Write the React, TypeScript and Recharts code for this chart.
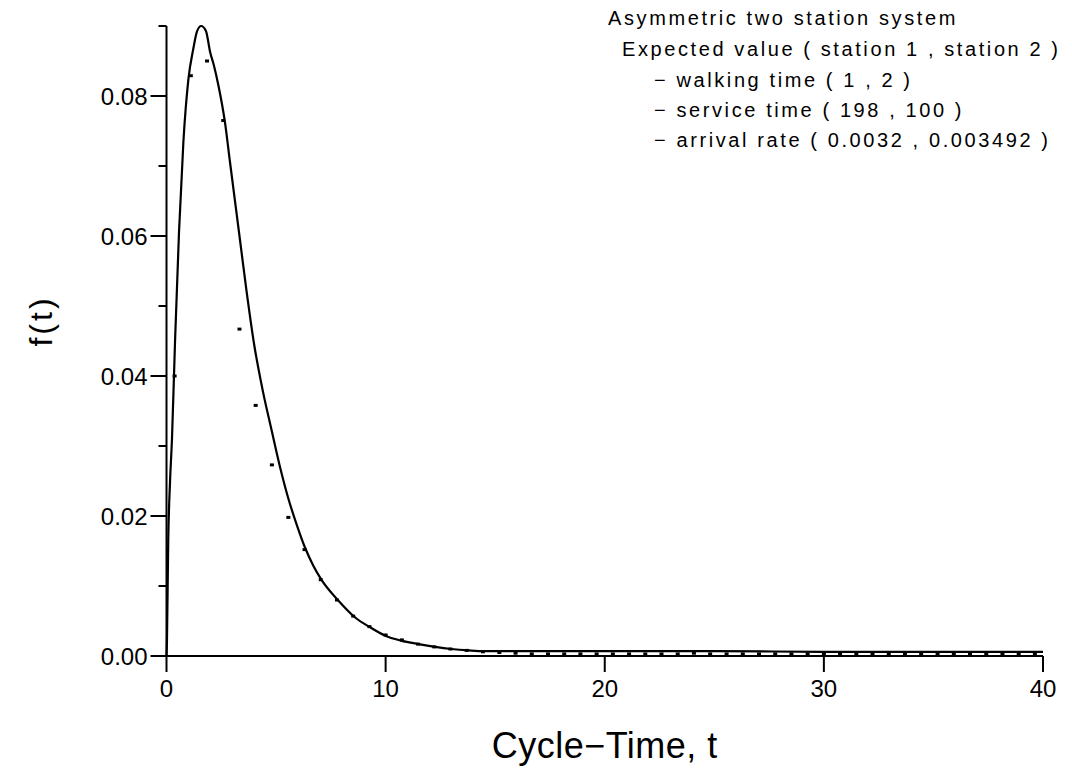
import React from "react";
import { ComposedChart, Line, Scatter, XAxis, YAxis, Label } from "recharts";

// density curve f(t)
const curveT = [
  0, 0.02, 0.08, 0.16, 0.25, 0.39, 0.57, 0.77, 1.0, 1.22, 1.4, 1.58, 1.8, 1.99,
  2.17, 2.37, 2.67, 2.9, 3.31, 3.65, 4.0, 4.4, 4.8, 5.18, 5.56, 5.96, 6.32, 6.7,
  7.09, 7.85, 8.61, 9.29, 9.98, 10.7, 11.5, 12.26, 13.0, 13.8, 14.5, 16, 20, 25,
  30, 40,
];
const curveF = [
  0, 0.002, 0.0166, 0.0248, 0.031, 0.045, 0.0605, 0.0734, 0.0824, 0.0867,
  0.0893, 0.09, 0.0893, 0.0863, 0.0843, 0.0815, 0.0762, 0.0705, 0.0605, 0.0522,
  0.0445, 0.0378, 0.0322, 0.027, 0.0225, 0.0186, 0.0155, 0.0129, 0.0108,
  0.0079, 0.0055, 0.0041, 0.0029, 0.0022, 0.0017, 0.0013, 0.001, 0.0008,
  0.0007, 0.0007, 0.0007, 0.0007, 0.0006, 0.0006,
];

// simulated histogram points (bin centres)
const binT = [
  0.37, 1.11, 1.85, 2.59, 3.33, 4.07, 4.81, 5.56, 6.3, 7.04, 7.78, 8.52, 9.26,
  10.0, 10.74, 11.48, 12.22, 12.96, 13.7, 14.44, 15.19, 15.93, 16.67, 17.41,
  18.15, 18.89, 19.63, 20.37, 21.11, 21.85, 22.59, 23.33, 24.07, 24.81, 25.56,
  26.3, 27.04, 27.78, 28.52, 29.26, 30.0, 30.74, 31.48, 32.22, 32.96, 33.7,
  34.44, 35.19, 35.93, 36.67, 37.41, 38.15, 38.89, 39.63,
];
const binF = [
  0.04, 0.0829, 0.085, 0.0765, 0.0467, 0.0358, 0.0273, 0.0198, 0.0152, 0.0109,
  0.008, 0.0057, 0.0042, 0.003, 0.0023, 0.0017, 0.0013, 0.001, 0.0008, 0.0006,
  0.0005, 0.0004, 0.0003, 0.0003, 0.0003, 0.0003, 0.0003, 0.0003, 0.0003,
  0.0003, 0.0003, 0.0003, 0.0004, 0.0003, 0.0003, 0.0003, 0.0003, 0.0003,
  0.0003, 0.0003, 0.0003, 0.0003, 0.0003, 0.0003, 0.0003, 0.0003, 0.0003,
  0.0003, 0.0003, 0.0003, 0.0003, 0.0003, 0.0003, 0.0003,
];

const xTicks = [0, 10, 20, 30, 40];
const yTicks = [0, 0.01, 0.02, 0.03, 0.04, 0.05, 0.06, 0.07, 0.08, 0.09];

const noteLines = [
  { text: "Asymmetric two station system", left: 600, top: -2 },
  { text: "Expected value ( station 1 , station 2 )", left: 614, top: 29 },
  { text: "\u2212 walking time ( 1 , 2 )", left: 646, top: 60 },
  { text: "\u2212 service time ( 198 , 100 )", left: 646, top: 90 },
  { text: "\u2212 arrival rate ( 0.0032 , 0.003492 )", left: 646, top: 120 },
];

const curveData = curveT.map((t, i) => ({ t, f: curveF[i] }));
const binData = binT.map((t, i) => ({ t, f: binF[i] }));

const FONT = '"Liberation Sans", Arial, sans-serif';

const YTick = (props: any) => {
  const { x, y, payload } = props;
  const v = payload.value;
  const major = Math.round(v * 100) % 2 === 0;
  return (
    <g>
      <line x1={x - (major ? 16 : 8)} x2={x} y1={y} y2={y} stroke="#000" strokeWidth={2} />
      {major && (
        <text x={x - 19} y={y} dy="0.36em" textAnchor="end" fontSize={24} fontFamily={FONT} fill="#000">
          {v.toFixed(2)}
        </text>
      )}
    </g>
  );
};

const BinDot = (props: any) => (
  <rect x={props.cx - 2} y={props.cy - 1.5} width={4} height={3} fill="#000" />
);

const App: React.FC = () => {
  return (
    <div style={{ position: "relative", width: 1056, height: 762, background: "#fff" }}>
      <ComposedChart
        width={1056}
        height={762}
        margin={{ top: 18, right: 21, left: 68.5, bottom: 54 }}
      >
        <XAxis
          dataKey="t"
          type="number"
          domain={[0, 40]}
          ticks={xTicks}
          tickSize={16}
          tickMargin={8}
          tickLine={{ stroke: "#000", strokeWidth: 2 }}
          axisLine={{ stroke: "#000", strokeWidth: 2 }}
          tick={{ fontSize: 24, fontFamily: FONT, fill: "#000" }}
          height={60}
        >
          <Label
            value={"Cycle\u2212Time, t"}
            position="bottom"
            offset={16}
            style={{ fontSize: 36, fontFamily: FONT, fill: "#000", letterSpacing: 0.5 }}
          />
        </XAxis>
        <YAxis
          dataKey="f"
          type="number"
          domain={[0, 0.09]}
          ticks={yTicks}
          tickSize={0}
          tickMargin={0}
          tickLine={false}
          axisLine={{ stroke: "#000", strokeWidth: 2 }}
          tick={<YTick />}
          width={90}
        >
          <Label
            content={() => (
              <text
                transform="translate(44,313) rotate(-90)"
                textAnchor="middle"
                fontSize={32}
                letterSpacing={3}
                fontFamily={FONT}
                fill="#000"
              >
                f(t)
              </text>
            )}
          />
        </YAxis>
        <Line
          data={curveData}
          dataKey="f"
          type="monotone"
          stroke="#000"
          strokeWidth={2.2}
          dot={false}
          activeDot={false}
          isAnimationActive={false}
        />
        <Scatter
          data={binData}
          dataKey="f"
          fill="#000"
          shape={<BinDot />}
          isAnimationActive={false}
        />
      </ComposedChart>
      {noteLines.map((l) => (
        <div
          key={l.text}
          style={{
            position: "absolute",
            left: l.left,
            top: l.top,
            fontFamily: FONT,
            fontSize: 20,
            letterSpacing: 2.6,
            lineHeight: "24px",
            whiteSpace: "pre",
            color: "#000",
          }}
        >
          {l.text}
        </div>
      ))}
    </div>
  );
};

export default App;
